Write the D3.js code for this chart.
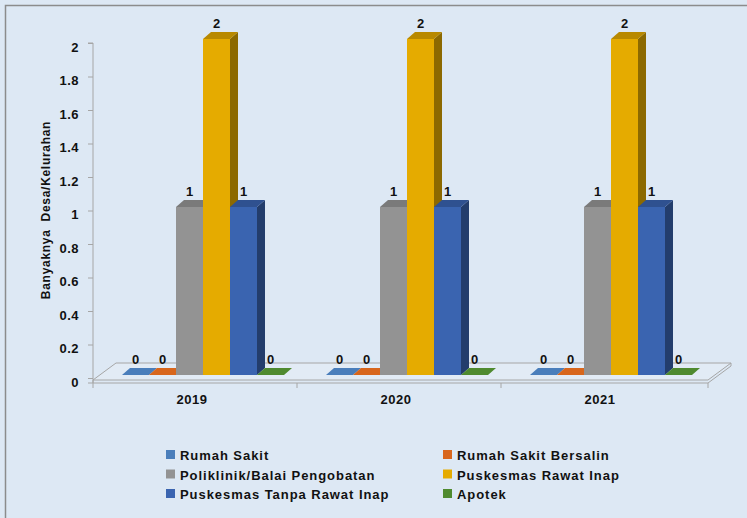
<!DOCTYPE html>
<html lang="en">
  <head>
    <meta charset="utf-8">
    <title>Banyaknya Desa/Kelurahan</title>
    <style>
      body { margin: 0; background: #fff; }
      svg { display: block; }
      text { font-family: "Liberation Sans", Arial, sans-serif; font-weight: bold; fill: #111; }
    </style>
  </head>
  <body>
    <div id="container"></div>
    <script src="https://cdn.jsdelivr.net/npm/d3@7/dist/d3.min.js"></script>
    <script type="text/javascript">
      var years = ["2019", "2020", "2021"];
      var seriesNames = ["Rumah Sakit", "Rumah Sakit Bersalin", "Poliklinik/Balai Pengobatan",
                         "Puskesmas Rawat Inap", "Puskesmas Tanpa Rawat Inap", "Apotek"];
      var rumahSakit = [0, 0, 0];
      var rumahSakitBersalin = [0, 0, 0];
      var poliklinik = [1, 1, 1];
      var puskesmasRawatInap = [2, 2, 2];
      var puskesmasTanpaRawatInap = [1, 1, 1];
      var apotek = [0, 0, 0];
      var yTicks = [0, 0.2, 0.4, 0.6, 0.8, 1, 1.2, 1.4, 1.6, 1.8, 2];

      var values = [rumahSakit, rumahSakitBersalin, poliklinik,
                    puskesmasRawatInap, puskesmasTanpaRawatInap, apotek];

      // front, top, side colours per series
      var colors = [
        {front: "#4a7ebb", top: "#3d6a9f", side: "#2f5480"},
        {front: "#d8661c", top: "#b55516", side: "#8f4311"},
        {front: "#939393", top: "#7a7a7a", side: "#606060"},
        {front: "#e5ab00", top: "#b88900", side: "#8c6900"},
        {front: "#3a64b0", top: "#2f5190", side: "#233d6c"},
        {front: "#4f8a2f", top: "#437527", side: "#355d1f"}
      ];

      var width = 747, height = 518;
      var dx = 8, dy = 7;

      var svg = d3.select("#container").append("svg")
          .attr("width", width)
          .attr("height", height);

      svg.append("rect")
          .attr("x", 0).attr("y", 0)
          .attr("width", width).attr("height", height)
          .style("fill", "#dde8f4");

      svg.append("path")
          .attr("d", "M5.5," + height + "V5.5H" + width)
          .style("fill", "none")
          .style("stroke", "#8c8c8c")
          .style("stroke-width", 1.5);

      var x0 = d3.scaleBand().domain(years).range([93, 705]).paddingInner(0).paddingOuter(0);
      var x1 = d3.scaleBand().domain(d3.range(6)).range([29, 191]);
      var yAxisScale = d3.scaleLinear().domain([0, 2]).range([378, 43]);
      var yBar = d3.scaleLinear().domain([0, 2]).range([375, 39]);

      // floor
      var fl = 93, fr = 708, ff = 380, fb = 363, fo = 23;
      svg.append("path")
          .attr("d", "M" + fl + "," + ff + "L" + fr + "," + ff + "L" + (fr + fo) + "," + fb + "L" + (fl + fo) + "," + fb + "Z")
          .style("fill", "#e2ebf5")
          .style("stroke", "#a6a6a6")
          .style("stroke-width", 1);
      svg.append("path")
          .attr("d", "M" + fl + "," + (ff + 3) + "L" + fr + "," + (ff + 3) + "L" + (fr + fo) + "," + (fb + 3) + "L" + (fr + fo) + "," + fb)
          .style("fill", "none")
          .style("stroke", "#a6a6a6")
          .style("stroke-width", 1);
      svg.append("path")
          .attr("d", "M" + fl + "," + ff + "L" + fl + "," + (ff + 3))
          .style("stroke", "#a6a6a6");

      // y axis
      var yAxis = d3.axisLeft(yAxisScale).tickValues(yTicks).tickSize(5).tickPadding(9)
          .tickFormat(function(d) { return d3.format("")(+d.toFixed(1)); });
      var ya = svg.append("g").attr("transform", "translate(93,0)").call(yAxis);
      ya.select(".domain").attr("d", "M-5," + yAxisScale(2) + "H0V" + (ff + 3) + "H-5").style("stroke", "#a6a6a6");
      ya.selectAll(".tick line").style("stroke", "#a6a6a6");
      ya.selectAll(".tick text")
          .style("font-size", "13px")
          .style("font-family", "'Liberation Sans', Arial, sans-serif")
          .style("font-weight", "bold")
          .style("letter-spacing", "0.5px")
          .style("fill", "#111")
          .attr("dy", "0.65em");

      // x category ticks
      var sepX = years.map(function(d) { return x0(d); }).concat([fr]);
      svg.selectAll(".xtick").data(sepX).enter().append("line")
          .attr("class", "xtick")
          .attr("x1", function(d) { return d; }).attr("x2", function(d) { return d; })
          .attr("y1", ff + 3).attr("y2", ff + 8)
          .style("stroke", "#a6a6a6");

      svg.selectAll(".xlabel").data(years).enter().append("text")
          .attr("class", "xlabel")
          .attr("x", function(d) { return x0(d) + x0.bandwidth() / 2 - 3; })
          .attr("y", 404)
          .attr("text-anchor", "middle")
          .style("font-size", "13px")
          .style("letter-spacing", "0.5px")
          .text(function(d) { return d; });

      // bars
      var bars = [];
      values.forEach(function(vals, s) {
        vals.forEach(function(v, i) {
          bars.push({s: s, year: years[i], v: v});
        });
      });

      var bw = x1.bandwidth();
      var g = svg.append("g");
      var bar = g.selectAll(".bar").data(bars).enter().append("g").attr("class", "bar");

      bar.each(function(d) {
        var el = d3.select(this);
        var x = x0(d.year) + x1(d.s);
        var yt = yBar(d.v), yb = yBar(0);
        var c = colors[d.s];
        if (d.v > 0) {
          el.append("rect")
              .attr("x", x).attr("y", yt).attr("width", bw).attr("height", yb - yt)
              .style("fill", c.front);
          el.append("path")
              .attr("d", "M" + (x + bw) + "," + yt + "L" + (x + bw + dx) + "," + (yt - dy) + "L" + (x + bw + dx) + "," + (yb - dy) + "L" + (x + bw) + "," + yb + "Z")
              .style("fill", c.side);
        }
        el.append("path")
            .attr("d", "M" + x + "," + yt + "L" + (x + bw) + "," + yt + "L" + (x + bw + dx) + "," + (yt - dy) + "L" + (x + dx) + "," + (yt - dy) + "Z")
            .style("fill", d.v > 0 ? c.top : c.front);
      });

      bar.append("text")
          .attr("x", function(d) { return x0(d.year) + x1(d.s) + bw / 2; })
          .attr("y", function(d) { return yBar(d.v) - dy - 4; })
          .attr("text-anchor", "middle")
          .style("font-size", "13px")
          .text(function(d) { return d.v; });

      // y axis title
      svg.append("text")
          .attr("transform", "translate(50,210) rotate(-90)")
          .attr("text-anchor", "middle")
          .style("font-size", "12px")
          .style("letter-spacing", "0.7px")
          .attr("xml:space", "preserve")
          .text("Banyaknya  Desa/Kelurahan");

      // legend
      var legend = svg.selectAll(".legend").data(seriesNames).enter().append("g")
          .attr("class", "legend")
          .attr("transform", function(d, i) {
            return "translate(" + (i % 2 === 0 ? 166 : 443) + "," + (455 + Math.floor(i / 2) * 19.5) + ")";
          });
      legend.append("rect")
          .attr("x", 0).attr("y", -5).attr("width", 9).attr("height", 9)
          .style("fill", function(d, i) { return colors[i].front; });
      legend.append("text")
          .attr("x", 14).attr("y", 5)
          .style("font-size", "13px")
          .style("letter-spacing", "0.95px")
          .text(function(d) { return d; });
    </script>
  </body>
</html>
